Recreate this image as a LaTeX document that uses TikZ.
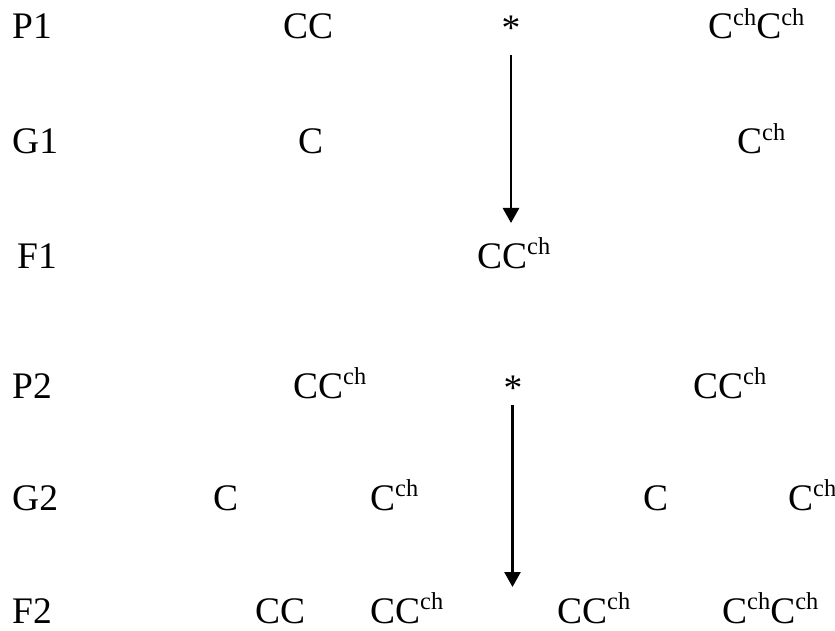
\documentclass[tikz,border=0pt]{standalone}
\usepackage{fontspec}
\setmainfont{Liberation Serif}
\usetikzlibrary{arrows.meta}
\newcommand{\chs}{\raisebox{13.5pt}{\fontsize{24.4}{24}\selectfont ch}}
\begin{document}
\begin{tikzpicture}[x=1pt,y=1pt,
  lab/.style={anchor=base west, inner sep=0pt, font=\fontsize{37.5}{40}\selectfont},
  starlab/.style={anchor=base, inner sep=0pt, font=\fontsize{37.5}{40}\selectfont},
  arr/.style={line width=2.6pt, -{Triangle[width=16pt,length=15pt]}}]
\useasboundingbox (0,0) rectangle (835,-631);
% row P1
\node[lab] (p1) at (12,-39) {P1};
\node[lab] (p1a) at (283,-39) {CC};
\node[starlab] (s1) at (511,-41) {*};
\node[lab] (p1b) at (708,-39) {C\chs C\chs};
% row G1
\node[lab] (g1) at (12,-154) {G1};
\node[lab] (g1a) at (298,-154) {C};
\node[lab] (g1b) at (737,-154) {C\chs};
% row F1
\node[lab] (f1) at (17,-268) {F1};
\node[lab] (f1a) at (477,-268) {CC\chs};
% row P2
\node[lab] (p2) at (12,-398) {P2};
\node[lab] (p2a) at (293,-398) {CC\chs};
\node[starlab] (s2) at (513,-400) {*};
\node[lab] (p2b) at (693,-398) {CC\chs};
% row G2
\node[lab] (g2) at (12,-510) {G2};
\node[lab] (g2a) at (213,-510) {C};
\node[lab] (g2b) at (370,-510) {C\chs};
\node[lab] (g2c) at (643,-510) {C};
\node[lab] (g2d) at (788,-510) {C\chs};
% row F2
\node[lab] (f2) at (12,-623) {F2};
\node[lab] (f2a) at (255,-623) {CC};
\node[lab] (f2b) at (370,-623) {CC\chs};
\node[lab] (f2c) at (557,-623) {CC\chs};
\node[lab] (f2d) at (722,-623) {C\chs C\chs};
% arrows
\coordinate (a1s) at (511,-55);
\coordinate (a1e) at (511,-223);
\coordinate (a2s) at (512.5,-405);
\coordinate (a2e) at (512.5,-587);
\draw[arr] (a1s) -- (a1e);
\draw[arr] (a2s) -- (a2e);
\end{tikzpicture}
\end{document}
